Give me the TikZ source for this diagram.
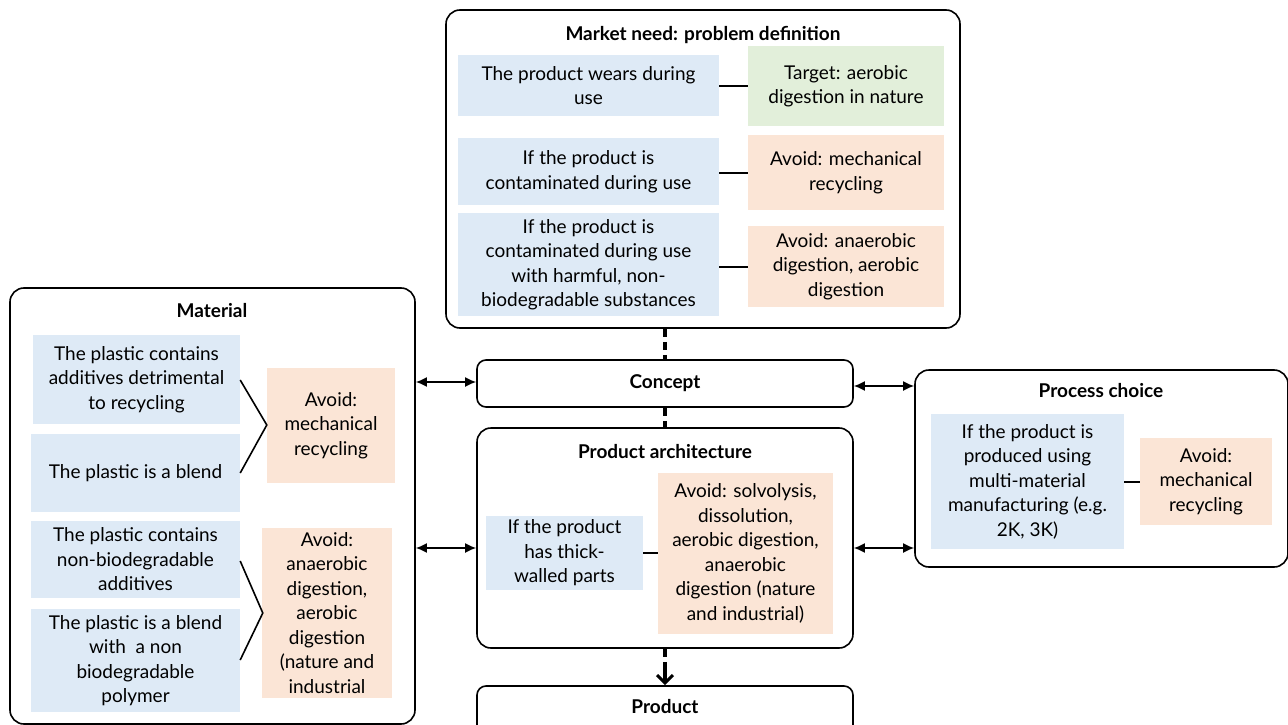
\documentclass[tikz,border=0pt]{standalone}
\usepackage{fontspec}
\setmainfont{Lato}
\usetikzlibrary{arrows.meta}
\definecolor{cblue}{HTML}{DEEAF6}
\definecolor{cgreen}{HTML}{E2EFDA}
\definecolor{corange}{HTML}{FBE5D6}
\tikzset{
  txt/.style={inner sep=0pt, align=center, font=\fontsize{19}{24.5}\selectfont},
  ttl/.style={inner sep=0pt, align=center, font=\fontsize{19}{24.5}\selectfont\bfseries},
  bluebox/.style={txt, fill=cblue},
  greenbox/.style={txt, fill=cgreen},
  orangebox/.style={txt, fill=corange},
  frame/.style={draw=black, line width=1.6pt, rounded corners=14pt, inner sep=0pt},
  link/.style={draw=black, line width=1.6pt},
  dlink/.style={draw=black, line width=3.2pt, dash pattern=on 8pt off 5pt},
  biarrow/.style={draw=black, line width=1.6pt, {Latex[length=11pt,width=10pt]}-{Latex[length=11pt,width=10pt]}},
}
\begin{document}
\begin{tikzpicture}[x=1pt,y=-1pt]
\useasboundingbox (0,0) rectangle (1288,725);
\clip (0,0) rectangle (1288,725);

% ---------- Market need ----------
\node[frame, minimum width=514, minimum height=318] (market) at (703,169) {};
\node[ttl] (markett) at (703,35) {Market need: problem definition};
\node[bluebox, minimum width=261, minimum height=61] (b1) at (588.5,85.5) {The product wears during\\use};
\node[bluebox, minimum width=261, minimum height=67] (b2) at (588.5,171.5) {If the product is\\contaminated during use};
\node[bluebox, minimum width=261, minimum height=103] (b3) at (588.5,264.5) {If the product is\\contaminated during use\\with harmful, non-\\biodegradable substances};
\node[greenbox, minimum width=196, minimum height=80] (g1) at (846,86) {Target: aerobic\\digestion in nature};
\node[orangebox, minimum width=196, minimum height=75] (o1) at (846,172.5) {Avoid: mechanical\\recycling};
\node[orangebox, minimum width=196, minimum height=81] (o2) at (846,266.5) {Avoid: anaerobic\\digestion, aerobic\\digestion};
\draw[link] (b1.east |- 0,86) -- (g1.west |- 0,86);
\draw[link] (b2.east |- 0,173) -- (o1.west |- 0,173);
\draw[link] (b3.east |- 0,267) -- (o2.west |- 0,267);

% ---------- Concept ----------
\node[frame, rounded corners=9pt, minimum width=376, minimum height=47] (concept) at (665,383.5) {};
\node[ttl] (conceptt) at (665,383) {Concept};

% ---------- Product architecture ----------
\node[frame, minimum width=376, minimum height=220] (arch) at (665,538) {};
\node[ttl] (archt) at (665,452) {Product architecture};
\node[bluebox, minimum width=157, minimum height=74] (a1) at (564.5,553) {If the product\\has thick-\\walled parts};
\node[orangebox, minimum width=175, minimum height=161] (a2) at (745.5,553.5) {Avoid: solvolysis,\\dissolution,\\aerobic digestion,\\anaerobic\\digestion (nature\\and industrial)};
\draw[link] (a1.east |- 0,553) -- (a2.west |- 0,553);

% ---------- Product ----------
\node[frame, rounded corners=9pt, minimum width=376, minimum height=60] (product) at (665,716) {};
\node[ttl] (productt) at (665,707) {Product};

% dashed connectors
\draw[dlink] (concept.north |- market.south) -- (concept.north);
\draw[dlink] (concept.south) -- (arch.north);
\draw[dlink] (arch.south) -- ([yshift=18pt]product.north);
\draw[black, line width=3.2pt, -{Straight Barb[length=8pt,width=16pt,line width=3pt]}] ([yshift=22pt]product.north) -- (product.north);

% ---------- Material ----------
\node[frame, minimum width=405, minimum height=436] (material) at (212.5,506) {};
\node[ttl] (materialt) at (212,311) {Material};
\node[bluebox, minimum width=207, minimum height=89] (m1) at (136.5,379.5) {The plastic contains\\additives detrimental\\to recycling};
\node[bluebox, minimum width=209, minimum height=78] (m2) at (135.5,473) {The plastic is a blend};
\node[bluebox, minimum width=209, minimum height=77] (m3) at (135.5,559.5) {The plastic contains\\non-biodegradable\\additives};
\node[bluebox, minimum width=209, minimum height=103] (m4) at (135.5,660.5) {The plastic is a blend\\with\ \ a non\\biodegradable\\polymer};
\node[orangebox, minimum width=128, minimum height=115] (mo1) at (331,425.5) {Avoid:\\mechanical\\recycling};
\node[orangebox, minimum width=130, minimum height=170] (mo2) at (327,613) {Avoid:\\anaerobic\\digestion,\\aerobic\\digestion\\(nature and\\industrial};
\draw[link] (m1.east |- 0,380) -- (mo1.west |- 0,425) -- (m2.east |- 0,473);
\draw[link] (m3.east |- 0,561) -- ([xshift=1pt]mo2.west |- 0,613) -- (m4.east |- 0,660);

% ---------- Process choice ----------
\node[frame, minimum width=373, minimum height=197] (process) at (1101.5,468.5) {};
\node[ttl] (processt) at (1101,391) {Process choice};
\node[bluebox, minimum width=193, minimum height=135] (p1) at (1027.5,481.5) {If the product is\\produced using\\multi-material\\manufacturing (e.g.\\2K, 3K)};
\node[orangebox, minimum width=132, minimum height=87] (p2) at (1206,481.5) {Avoid:\\mechanical\\recycling};
\draw[link] (p1.east |- 0,482) -- (p2.west |- 0,482);

% ---------- side arrows ----------
\draw[biarrow] (material.east |- 0,382) -- (concept.west |- 0,382);
\draw[biarrow] (material.east |- 0,548) -- (arch.west |- 0,548);
\draw[biarrow] (concept.east |- 0,386) -- (process.west |- 0,386);
\draw[biarrow] (arch.east |- 0,548) -- (process.west |- 0,548);
\end{tikzpicture}
\end{document}
